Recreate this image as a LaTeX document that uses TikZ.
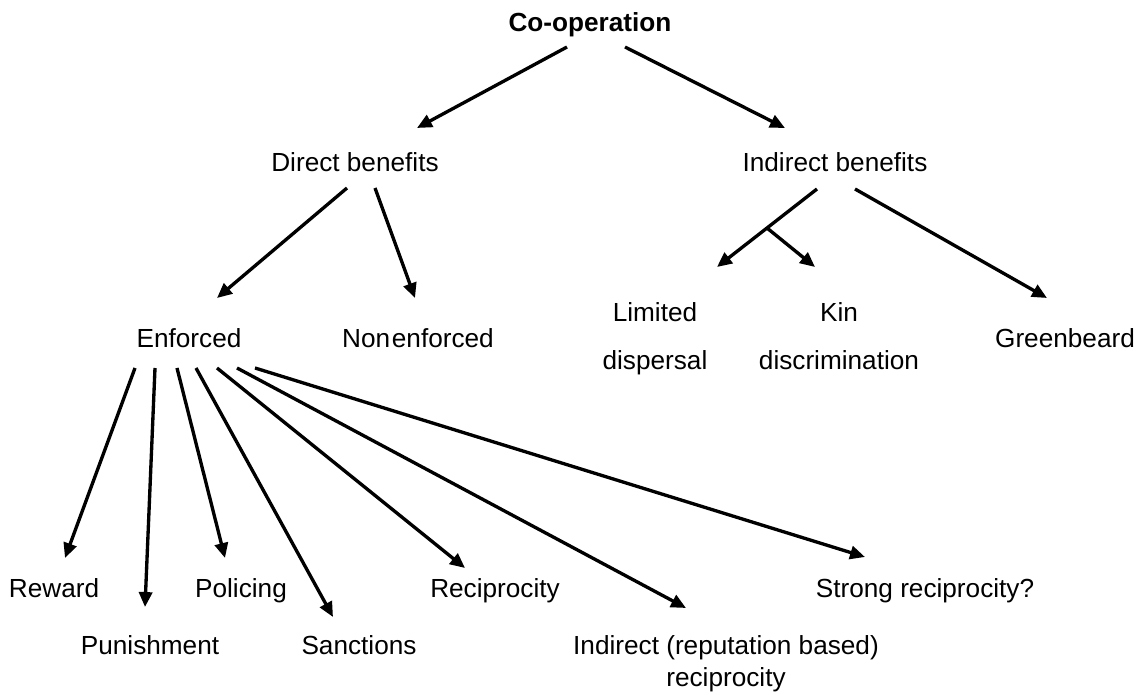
\documentclass[tikz,border=0pt]{standalone}
\usepackage{fontspec}
\setmainfont{Liberation Sans}
\usetikzlibrary{arrows.meta,calc}
\begin{document}
\begin{tikzpicture}[x=0.02cm, y=-0.02cm]
  %% Styles for the entries and the arrows
  \tikzset
  {
  entry/.style={inner sep=0pt, outer sep=0pt, anchor=base, font=\fontsize{14.9}{18}\selectfont},
  root entry/.style={entry, font=\fontsize{14.9}{18}\selectfont\bfseries},
  wide entry/.style={entry, anchor=north, align=center, font=\fontsize{14.9}{27.2}\selectfont},
  link/.style={line width=1.9pt, -{Triangle[length=8.5pt, width=7.5pt]}},
  }
  \useasboundingbox (0,0) rectangle (1144,695);
  %% Top levels
  \node[root entry] (coop) at (590,32) {Co-operation};
  \node[entry] (direct) at (355,172) {Direct benefits};
  \node[entry] (indirect) at (835,172) {Indirect benefits};
  %% Middle level
  \node[entry] (enf) at (189,348) {Enforced};
  \node[entry] (nonenf) at (418,348) {Non\kern1pt enforced};
  \node[wide entry] (limited) at (655,303) {Limited\\dispersal};
  \node[wide entry] (kin) at (839,303) {Kin\\discrimination};
  \node[entry] (green) at (1065,348) {Greenbeard};
  %% Bottom level
  \node[entry] (rew) at (54,598) {Reward};
  \node[entry] (pun) at (150,655) {Punishment};
  \node[entry] (pol) at (241,598) {Policing};
  \node[entry] (san) at (359,655) {Sanctions};
  \node[entry] (rec) at (495,598) {Reciprocity};
  \node[entry, anchor=north, align=center] (irec) at (726,636) {Indirect (reputation based)\\reciprocity};
  \node[entry] (strong) at (925,598) {Strong reciprocity?};
  %% Arrows from the root
  \draw [link] ($(coop.base)+(-23,15)$) -- ($(direct.base)+(62,-44)$);
  \draw [link] ($(coop.base)+(35,15)$) -- ($(indirect.base)+(-50,-44)$);
  %% Direct benefits
  \draw [link] ($(direct.base)+(-8,16)$) -- ($(enf.base)+(28,-50)$);
  \draw [link] ($(direct.base)+(20,16)$) -- ($(nonenf.base)+(-3,-50)$);
  %% Indirect benefits
  \draw [link] ($(indirect.base)+(-18,17)$) -- coordinate (fork) ($(limited.north)+(62,-36)$);
  \draw [link] (fork) -- ($(kin.north)+(-24,-36)$);
  \draw [link] ($(indirect.base)+(20,17)$) -- ($(green.base)+(-18,-50)$);
  %% Enforced
  \draw [link] ($(enf.base)+(-54,20)$) -- ($(rew.base)+(11,-40)$);
  \draw [link] ($(enf.base)+(-34,20)$) -- ($(pun.base)+(-5,-48)$);
  \draw [link] ($(enf.base)+(-12,20)$) -- ($(pol.base)+(-16,-40)$);
  \draw [link] ($(enf.base)+(7,20)$) -- ($(san.base)+(-26,-38)$);
  \draw [link] ($(enf.base)+(28,20)$) -- ($(rec.base)+(-30,-30)$);
  \draw [link] ($(enf.base)+(48,20)$) -- ($(irec.north)+(-40,-28)$);
  \draw [link] ($(enf.base)+(66,20)$) -- ($(strong.base)+(-60,-41)$);
\end{tikzpicture}
\end{document}
